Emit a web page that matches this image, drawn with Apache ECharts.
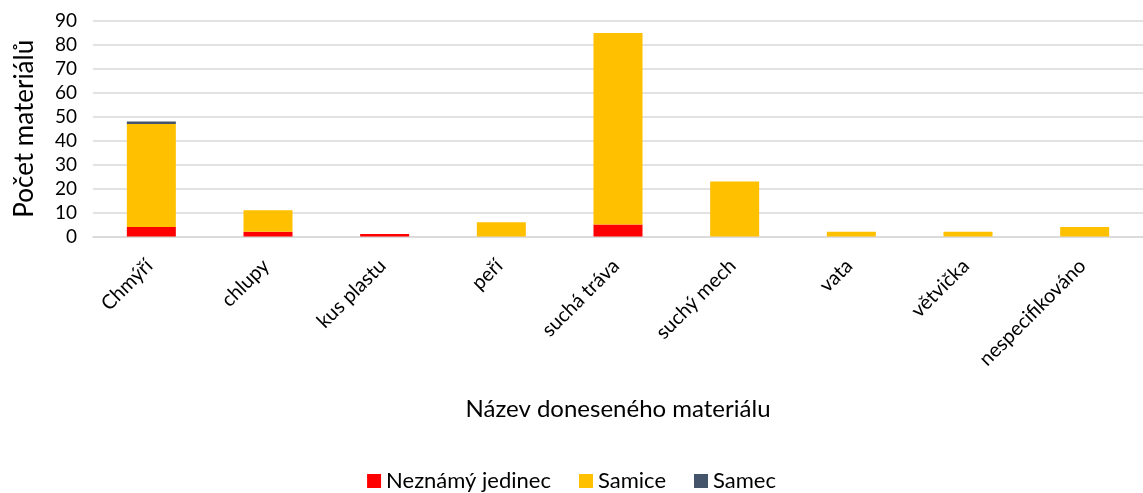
<!DOCTYPE html>
<html>
<head>
<meta charset="utf-8">
<script src="https://cdn.jsdelivr.net/npm/echarts@6/dist/echarts.min.js"></script>
<style>
  html, body { margin: 0; padding: 0; background: #fff; }
  #echart { width: 1143px; height: 493px; }
</style>
</head>
<body>
<div id="echart"></div>
<script>
// data
var categories = ['Chmýří', 'chlupy', 'kus plastu', 'peří', 'suchá tráva', 'suchý mech', 'vata', 'větvička', 'nespecifikováno'];
var neznamy = [4, 2, 1, 0, 5, 0, 0, 0, 0];
var samice = [43, 9, 0, 6, 80, 23, 2, 2, 4];
var samec = [1, 0, 0, 0, 0, 0, 0, 0, 0];

var myChart = echarts.init(document.getElementById('echart'));
var font = 'Lato, "Open Sans", sans-serif';

function bar(name, data, color) {
    return {
        name: name,
        type: 'bar',
        stack: 'total',
        data: data,
        barWidth: 49,
        itemStyle: { color: color },
        emphasis: { disabled: true }
    };
}

var option = {
    animation: false,
    textStyle: { fontFamily: font },
    grid: { left: 93, right: -8, top: 21, height: 215.5, containLabel: false },
    legend: {
        bottom: -4,
        left: 'center',
        itemWidth: 14,
        itemHeight: 14,
        itemGap: 28,
        icon: 'rect',
        data: ['Neznámý jedinec', 'Samice', 'Samec'],
        textStyle: { fontSize: 22, color: '#000', fontFamily: font }
    },
    xAxis: {
        type: 'category',
        data: categories,
        name: 'Název doneseného materiálu',
        nameLocation: 'middle',
        nameGap: 161,
        nameTextStyle: { fontSize: 24, color: '#000', fontFamily: font },
        axisLine: { lineStyle: { color: '#d9d9d9', width: 1.5 } },
        axisTick: { show: false },
        axisLabel: { rotate: 45, margin: 24, padding: [0, 3, 0, 0], fontSize: 20, color: '#000', fontFamily: font, interval: 0 }
    },
    yAxis: {
        type: 'value',
        min: 0,
        max: 90,
        interval: 10,
        name: 'Počet materiálů',
        nameLocation: 'middle',
        nameGap: 55,
        nameTextStyle: { fontSize: 26, color: '#000', fontFamily: font },
        axisLine: { show: false },
        axisTick: { show: false },
        axisLabel: { fontSize: 19, color: '#000', margin: 16, fontFamily: font },
        splitLine: { lineStyle: { color: '#d9d9d9', width: 1.5 } }
    },
    series: [
        bar('Neznámý jedinec', neznamy, '#ff0000'),
        bar('Samice', samice, '#ffc000'),
        bar('Samec', samec, '#44546a')
    ]
};
myChart.setOption(option);
</script>
</body>
</html>
